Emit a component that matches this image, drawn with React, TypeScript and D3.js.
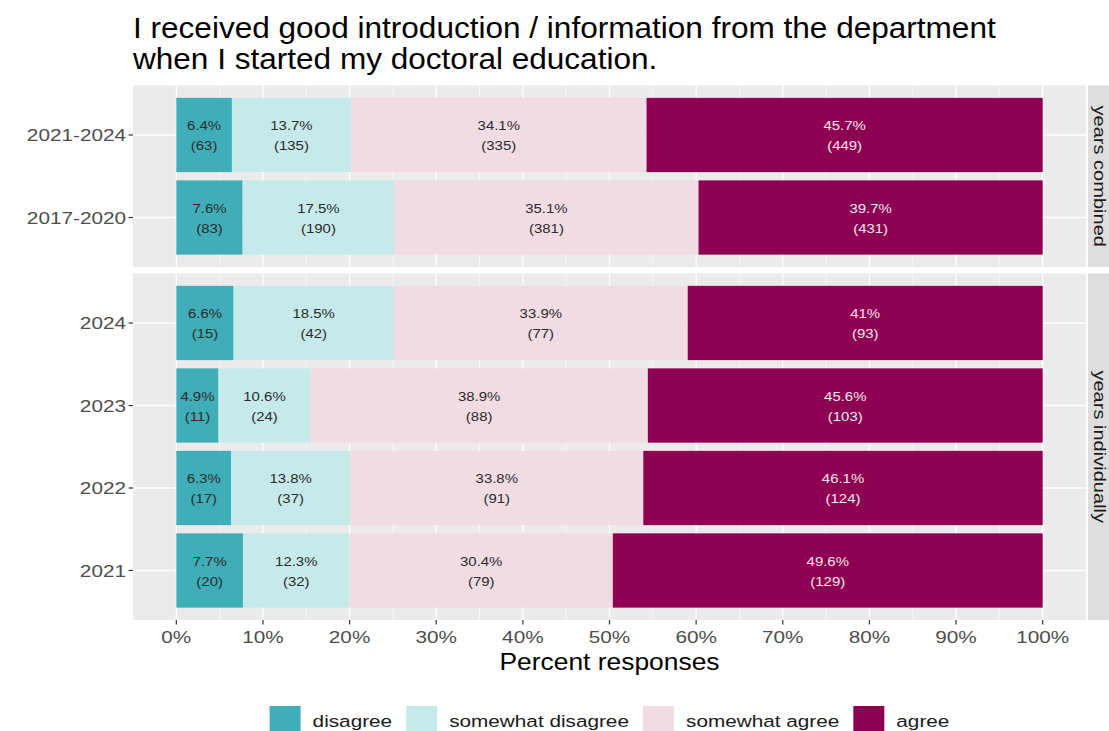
import React from "react";
import * as d3 from "d3";

const categories = ["disagree", "somewhat disagree", "somewhat agree", "agree"];
const colors = ["#40AEB8", "#C6EAEA", "#F1DCE4", "#8E0152"];
const labelColors = ["#2b2b2b", "#2b2b2b", "#2b2b2b", "#f4e6ee"];

const facets = ["years combined", "years individually"];
const rowsCombined = ["2021-2024", "2017-2020"];
const rowsIndividual = ["2024", "2023", "2022", "2021"];

// counts per row: disagree, somewhat disagree, somewhat agree, agree
const counts2124 = [63, 135, 335, 449];
const counts1720 = [83, 190, 381, 431];
const counts2024 = [15, 42, 77, 93];
const counts2023 = [11, 24, 88, 103];
const counts2022 = [17, 37, 91, 124];
const counts2021 = [20, 32, 79, 129];

// percent labels as printed
const pct2124 = ["6.4%", "13.7%", "34.1%", "45.7%"];
const pct1720 = ["7.6%", "17.5%", "35.1%", "39.7%"];
const pct2024 = ["6.6%", "18.5%", "33.9%", "41%"];
const pct2023 = ["4.9%", "10.6%", "38.9%", "45.6%"];
const pct2022 = ["6.3%", "13.8%", "33.8%", "46.1%"];
const pct2021 = ["7.7%", "12.3%", "30.4%", "49.6%"];

const xTicks = [0, 0.1, 0.2, 0.3, 0.4, 0.5, 0.6, 0.7, 0.8, 0.9, 1.0];

const title1 = "I received good introduction / information from the department";
const title2 = "when I started my doctoral education.";
const xTitle = "Percent responses";

const rowData: Record<string, { counts: number[]; pct: string[] }> = {
  "2021-2024": { counts: counts2124, pct: pct2124 },
  "2017-2020": { counts: counts1720, pct: pct1720 },
  "2024": { counts: counts2024, pct: pct2024 },
  "2023": { counts: counts2023, pct: pct2023 },
  "2022": { counts: counts2022, pct: pct2022 },
  "2021": { counts: counts2021, pct: pct2021 },
};

const FONT = "'Liberation Sans', Arial, Helvetica, sans-serif";

function T(props: {
  x: number; y: number; sx?: number; size: number; fill?: string;
  anchor?: string; rotate?: number; baseline?: string; children: React.ReactNode;
}) {
  const { x, y, sx = 1, size, fill = "#1a1a1a", anchor = "start", rotate = 0, baseline } = props;
  return (
    <text
      transform={`translate(${x},${y}) rotate(${rotate}) scale(${sx},1)`}
      fontFamily={FONT}
      fontSize={size}
      fill={fill}
      textAnchor={anchor}
      dominantBaseline={baseline}
    >
      {props.children}
    </text>
  );
}

function measure(text: string, size: number): number {
  if (typeof document === "undefined") return text.length * size * 0.5;
  const c = document.createElement("canvas").getContext("2d");
  if (!c) return text.length * size * 0.5;
  c.font = `${size}px 'Liberation Sans', Arial, sans-serif`;
  return c.measureText(text).width;
}

export default function App() {
  const W = 1109, H = 731;
  const panelLeft = 133, panelRight = 1086;
  const top = 85.5, bottom = 620, gap = 6.5;
  const nA = rowsCombined.length, nB = rowsIndividual.length;
  const unit = (bottom - top - gap) / (nA + 0.2 + nB + 0.2);
  const p1Bottom = top + unit * (nA + 0.2);
  const p2Top = p1Bottom + gap;

  const x = d3.scaleLinear().domain([-0.05, 1.05]).range([panelLeft, panelRight]);
  const y1 = d3.scaleBand<string>().domain(rowsCombined).range([top, p1Bottom]).paddingInner(0.1).paddingOuter(0.15);
  const y2 = d3.scaleBand<string>().domain(rowsIndividual).range([p2Top, bottom]).paddingInner(0.1).paddingOuter(0.15);

  const panels = [
    { name: facets[0], rows: rowsCombined, y: y1, t: top, b: p1Bottom },
    { name: facets[1], rows: rowsIndividual, y: y2, t: p2Top, b: bottom },
  ];

  const minorTicks = d3.range(0.05, 1.0, 0.1);
  const tickSx = 1.22;
  const axisSize = 17;

  // legend layout
  const legSize = 17, legSx = 1.22, keyW = 31, keyGap = 12, itemGap = 14;
  const widths = categories.map((c) => measure(c, legSize) * legSx);
  const total = widths.reduce((a, w) => a + keyW + keyGap + w, 0) + itemGap * (categories.length - 1);
  let lx = (panelLeft + panelRight) / 2 - total / 2;
  const legendItems = categories.map((c, i) => {
    const item = { c, i, x: lx };
    lx += keyW + keyGap + widths[i] + itemGap;
    return item;
  });

  return (
    <svg width={W} height={H} style={{ position: "absolute", left: 0, top: 0, background: "#fff" }}>
      <rect x={0} y={0} width={W} height={H} fill="#ffffff" />
      <T x={133} y={38} size={29.5} sx={1.07} fill="#000">{title1}</T>
      <T x={133} y={69} size={29.5} sx={1.07} fill="#000">{title2}</T>

      {panels.map((p) => {
        const stack = p.rows.map((r) => {
          const d = rowData[r];
          const tot = d3.sum(d.counts);
          const cum = d3.cumsum(d.counts);
          return d.counts.map((v, i) => ({
            r, i, x0: (cum[i] - v) / tot, x1: cum[i] / tot, pct: d.pct[i], n: v,
          }));
        });
        return (
          <g key={p.name}>
            <rect x={panelLeft} y={p.t} width={panelRight - panelLeft} height={p.b - p.t} fill="#EBEBEB" />
            {minorTicks.map((t) => (
              <line key={"m" + t} x1={x(t)} x2={x(t)} y1={p.t} y2={p.b} stroke="#fff" strokeWidth={0.6} />
            ))}
            {xTicks.map((t) => (
              <line key={"M" + t} x1={x(t)} x2={x(t)} y1={p.t} y2={p.b} stroke="#fff" strokeWidth={1.3} />
            ))}
            {p.rows.map((r) => (
              <line key={"h" + r} x1={panelLeft} x2={panelRight} y1={p.y(r)! + p.y.bandwidth() / 2} y2={p.y(r)! + p.y.bandwidth() / 2} stroke="#fff" strokeWidth={1.3} />
            ))}
            {stack.map((segs) =>
              segs.map((s) => (
                <rect key={s.r + s.i} x={x(s.x0)} y={p.y(s.r)!} width={x(s.x1) - x(s.x0)} height={p.y.bandwidth()} fill={colors[s.i]} />
              ))
            )}
            {stack.map((segs) =>
              segs.map((s) => {
                const cx = x((s.x0 + s.x1) / 2);
                const cy = p.y(s.r)! + p.y.bandwidth() / 2;
                return (
                  <g key={"l" + s.r + s.i}>
                    <T x={cx} y={cy - 5} size={13} sx={1.15} anchor="middle" fill={labelColors[s.i]}>{s.pct}</T>
                    <T x={cx} y={cy + 15} size={13} sx={1.15} anchor="middle" fill={labelColors[s.i]}>{`(${s.n})`}</T>
                  </g>
                );
              })
            )}
            {/* y axis */}
            {p.rows.map((r) => {
              const cy = p.y(r)! + p.y.bandwidth() / 2;
              return (
                <g key={"y" + r}>
                  <line x1={panelLeft - 4.4} x2={panelLeft} y1={cy} y2={cy} stroke="#333" strokeWidth={1.2} />
                  <T x={panelLeft - 7} y={cy + 6} size={axisSize} sx={tickSx} anchor="end" fill="#4D4D4D">{r}</T>
                </g>
              );
            })}
            {/* strip */}
            <rect x={panelRight + 2} y={p.t} width={W - panelRight} height={p.b - p.t} fill="#DEDEDE" />
            <T x={1100} y={(p.t + p.b) / 2} size={17} sx={1.18} anchor="middle" rotate={90} baseline="central" fill="#1a1a1a">{p.name}</T>
          </g>
        );
      })}

      {/* x axis */}
      {xTicks.map((t) => (
        <g key={"x" + t}>
          <line x1={x(t)} x2={x(t)} y1={bottom} y2={bottom + 4.4} stroke="#333" strokeWidth={1.2} />
          <T x={x(t)} y={643} size={axisSize} sx={tickSx} anchor="middle" fill="#4D4D4D">{d3.format(".0%")(t)}</T>
        </g>
      ))}
      <T x={(panelLeft + panelRight) / 2} y={670} size={24} sx={1.1} anchor="middle" fill="#000">{xTitle}</T>

      {/* legend */}
      {legendItems.map((it) => (
        <g key={it.c}>
          <rect x={it.x} y={706} width={keyW} height={31} fill={colors[it.i]} />
          <T x={it.x + keyW + keyGap} y={727} size={legSize} sx={legSx} fill="#1a1a1a">{it.c}</T>
        </g>
      ))}
    </svg>
  );
}
